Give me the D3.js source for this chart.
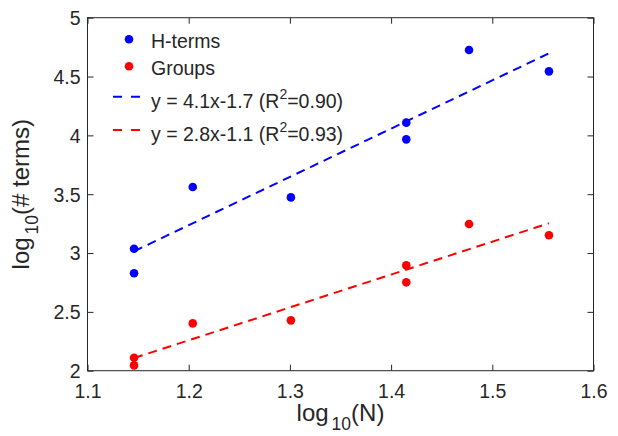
<!DOCTYPE html>
<html>
<head>
<meta charset="utf-8">
<script src="https://cdn.jsdelivr.net/npm/d3@7/dist/d3.min.js"></script>
<style>
  html, body { margin: 0; padding: 0; background: #fff; }
  svg { display: block; font-family: "Liberation Sans", Arial, Helvetica, sans-serif; }
</style>
</head>
<body>
<svg id="chart" width="618" height="436"></svg>
<script>
// ---- data ----
const xH = [1.146, 1.146, 1.204, 1.301, 1.415, 1.415, 1.477, 1.556];
const yH = [3.037, 2.828, 3.561, 3.473, 4.108, 3.966, 4.725, 4.544];
const xG = [1.146, 1.146, 1.204, 1.301, 1.415, 1.415, 1.477, 1.556];
const yG = [2.110, 2.045, 2.402, 2.428, 2.895, 2.751, 3.247, 3.151];
const seriesNames = ["H-terms", "Groups"];
const fitLabels = [["y = 4.1x-1.7 (R", "2", "=0.90)"], ["y = 2.8x-1.1 (R", "2", "=0.93)"]];
const xTicks = [1.1, 1.2, 1.3, 1.4, 1.5, 1.6];
const yTicks = [2, 2.5, 3, 3.5, 4, 4.5, 5];
const colors = ["#0000ff", "#ff0000"];

// ---- layout ----
const svg = d3.select("#chart");
const L = 87.5, R = 593.5, T = 17.7, B = 370.7;
const axisColor = "#262626";
const FS = 19.5;
const x = d3.scaleLinear().domain([1.1, 1.6]).range([L, R]);
const y = d3.scaleLinear().domain([2, 5]).range([B, T]);

function fit(xs, ys) {
  const mx = d3.mean(xs), my = d3.mean(ys);
  let sxy = 0, sxx = 0;
  xs.forEach((v, i) => { sxy += (v - mx) * (ys[i] - my); sxx += (v - mx) * (v - mx); });
  const b = sxy / sxx;
  return { b, a: my - b * mx };
}

// fit lines
[[xH, yH], [xG, yG]].forEach(([xs, ys], k) => {
  const f = fit(xs, ys);
  const x0 = d3.min(xs), x1 = d3.max(xs);
  svg.append("line")
    .attr("x1", x(x0)).attr("y1", y(f.a + f.b * x0))
    .attr("x2", x(x1)).attr("y2", y(f.a + f.b * x1))
    .attr("stroke", colors[k]).attr("stroke-width", 2)
    .attr("stroke-dasharray", "9,6");
});

// points
[[xH, yH], [xG, yG]].forEach(([xs, ys], k) => {
  svg.append("g").selectAll("circle").data(xs).join("circle")
    .attr("cx", d => x(d)).attr("cy", (d, i) => y(ys[i]))
    .attr("r", 4.3).attr("fill", colors[k]);
});

// axes
const axBottom = d3.axisBottom(x).tickValues(xTicks).tickSize(-6).tickFormat(d3.format(".1f"));
const gB = svg.append("g").attr("transform", `translate(0,${B})`).call(axBottom);
const axTop = d3.axisTop(x).tickValues(xTicks).tickSize(-6).tickFormat("");
const gT = svg.append("g").attr("transform", `translate(0,${T})`).call(axTop);
const axLeft = d3.axisLeft(y).tickValues(yTicks).tickSize(-6).tickFormat(d => d3.format("")(d));
const gL = svg.append("g").attr("transform", `translate(${L},0)`).call(axLeft);
const axRight = d3.axisRight(y).tickValues(yTicks).tickSize(-6).tickFormat("");
const gR = svg.append("g").attr("transform", `translate(${R},0)`).call(axRight);
[gB, gT, gL, gR].forEach(g => {
  g.select(".domain").remove();
  g.selectAll(".tick line").attr("stroke", axisColor);
  g.selectAll("text").attr("fill", axisColor).attr("font-size", FS)
    .attr("font-family", "'Liberation Sans', Arial, sans-serif");
});
gB.selectAll(".tick text").attr("dy", null).attr("y", 27.5);
gL.selectAll(".tick text").attr("x", -7).attr("dy", "0.35em");
// box
svg.append("rect").attr("x", L).attr("y", T).attr("width", R - L).attr("height", B - T)
  .attr("fill", "none").attr("stroke", axisColor).attr("stroke-width", 1);

// axis labels
const xl = svg.append("text").attr("x", (L + R) / 2).attr("y", 421)
  .attr("text-anchor", "middle").attr("font-size", 24).attr("fill", axisColor);
xl.append("tspan").text("log");
xl.append("tspan").attr("font-size", 17.5).attr("dx", 3).attr("dy", 9).text("10");
xl.append("tspan").attr("dy", -9).text("(N)");

const yl = svg.append("text").attr("transform", `translate(29,${(T + B) / 2}) rotate(-90)`)
  .attr("text-anchor", "middle").attr("font-size", 24).attr("fill", axisColor);
yl.append("tspan").text("log");
yl.append("tspan").attr("font-size", 17.5).attr("dx", 3).attr("dy", 9).text("10");
yl.append("tspan").attr("dy", -9).text("(# terms)");

// legend
const lg = svg.append("g");
const mY = [39.3, 66.3];
const tY = [48, 74.5];
seriesNames.forEach((n, k) => {
  lg.append("circle").attr("cx", 129).attr("cy", mY[k]).attr("r", 4.3).attr("fill", colors[k]);
  lg.append("text").attr("x", 151).attr("y", tY[k]).attr("font-size", FS)
    .attr("fill", axisColor).text(n);
});
const lY = [96.7, 130];
fitLabels.forEach((parts, k) => {
  lg.append("line").attr("x1", 113).attr("x2", 140).attr("y1", lY[k]).attr("y2", lY[k])
    .attr("stroke", colors[k]).attr("stroke-width", 2).attr("stroke-dasharray", "9,9");
  const t = lg.append("text").attr("x", 151).attr("y", lY[k] + 10.8).attr("font-size", FS)
    .attr("fill", axisColor);
  t.append("tspan").text(parts[0]);
  t.append("tspan").attr("font-size", 14).attr("dy", -9).text(parts[1]);
  t.append("tspan").attr("dy", 9).text(parts[2]);
});
</script>
</body>
</html>
